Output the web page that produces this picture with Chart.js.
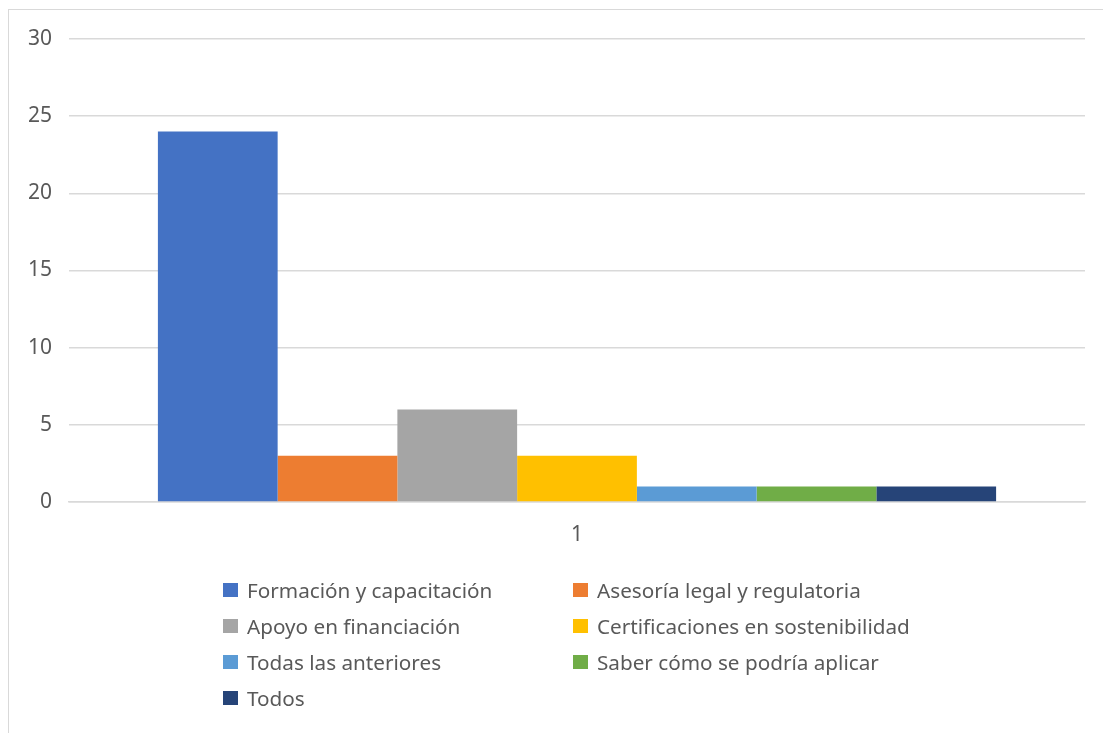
<!DOCTYPE html>
<html><head><meta charset="utf-8">
<script src="https://cdn.jsdelivr.net/npm/chart.js@4/dist/chart.umd.min.js"></script>
<style>
html,body{margin:0;padding:0;background:#fff;width:1103px;height:733px;overflow:hidden;font-family:"Noto Sans",sans-serif;}
#frame{position:absolute;left:8px;top:9px;width:1110px;height:740px;border:1px solid #d9d9d9;box-sizing:border-box;}
#wrap{position:absolute;left:0;top:0;width:1103px;height:733px;}
#legend{position:absolute;left:223px;top:572px;width:760px;display:grid;grid-template-columns:350px 410px;row-gap:0;}
.item{display:flex;align-items:center;height:36px;font-size:20.7px;color:#595959;white-space:nowrap;}
.sw{width:15px;height:14px;margin-right:9px;flex:none;}
</style></head>
<body>
<div id="frame"></div>
<div id="wrap"><canvas id="c" width="1103" height="733"></canvas></div>
<div id="legend"></div>
<script>
const categories = ["1"];
const seriesNames = ["Formación y capacitación","Asesoría legal y regulatoria","Apoyo en financiación","Certificaciones en sostenibilidad","Todas las anteriores","Saber cómo se podría aplicar","Todos"];
const seriesValues = [24, 3, 6, 3, 1, 1, 1];
const seriesColors = ["#4472C4","#ED7D31","#A5A5A5","#FFC000","#5B9BD5","#70AD47","#264478"];
const yTicks = [0,5,10,15,20,25,30];

const datasets = seriesNames.map((n,i)=>({label:n,data:[seriesValues[i]],backgroundColor:seriesColors[i],borderWidth:0,categoryPercentage:0.825,barPercentage:1}));

new Chart(document.getElementById('c'),{
  type:'bar',
  data:{labels:categories,datasets},
  options:{
    responsive:false,animation:false,
    layout:{padding:{left:9,top:39,right:18,bottom:181}},
    plugins:{legend:{display:false},tooltip:{enabled:false}},
    scales:{
      x:{grid:{display:false},border:{color:'#d9d9d9',width:1.5},
         ticks:{color:'#595959',font:{family:'Noto Sans',size:21},padding:12},
         afterFit:s=>{s.height=50;}},
      y:{min:0,max:30,afterBuildTicks:s=>{s.ticks=yTicks.map(v=>({value:v}));},
         grid:{color:'#d9d9d9',lineWidth:1.5,drawTicks:false},border:{display:false},
         ticks:{color:'#595959',font:{family:'Noto Sans',size:21},padding:17},
         afterFit:s=>{s.width=60;}}
    }
  }
});

const lg=document.getElementById('legend');
seriesNames.forEach((n,i)=>{
  const d=document.createElement('div');d.className='item';
  const s=document.createElement('span');s.className='sw';s.style.background=seriesColors[i];
  d.appendChild(s);d.appendChild(document.createTextNode(n));lg.appendChild(d);
});
</script>
</body></html>
